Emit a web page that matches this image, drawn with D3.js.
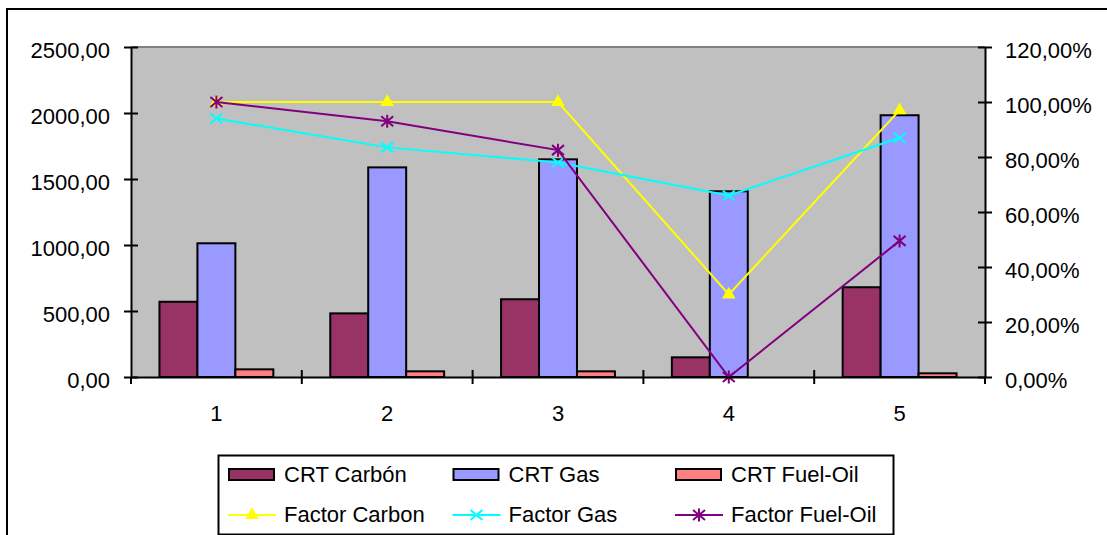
<!DOCTYPE html>
<html>
<head>
<meta charset="utf-8">
<script src="https://cdn.jsdelivr.net/npm/d3@7"></script>
<style>
  body { margin: 0; background: #fff; }
  svg { display: block; font-family: 'Liberation Sans', Arial, sans-serif; }
</style>
</head>
<body>
<div id="svg-container"></div>
<script>
const categories = ['1', '2', '3', '4', '5'];
const crtCarbon = [570, 482, 589, 149, 680];
const crtGas = [1013, 1588, 1649, 1407, 1983];
const crtFuelOil = [58, 43, 43, 0, 28];
const factorCarbon = [1.0, 1.0, 1.0, 0.3, 0.97];
const factorGas = [0.94, 0.835, 0.78, 0.66, 0.87];
const factorFuelOil = [1.0, 0.93, 0.825, 0.0, 0.495];
const leftTicks = [0, 500, 1000, 1500, 2000, 2500];
const rightTicks = [0, 0.2, 0.4, 0.6, 0.8, 1.0, 1.2];

const WIDTH = 1107;
const HEIGHT = 535;
const PLOT = { left: 131, right: 985, top: 47, bottom: 377 };
const FONT_SIZE = 22;

const barSeries = [
  { name: 'CRT Carbón', values: crtCarbon, color: '#993366' },
  { name: 'CRT Gas', values: crtGas, color: '#9999FF' },
  { name: 'CRT Fuel-Oil', values: crtFuelOil, color: '#FF8080' },
];
const lineSeries = [
  { name: 'Factor Carbon', values: factorCarbon, color: '#FFFF00', marker: 'triangle' },
  { name: 'Factor Gas', values: factorGas, color: '#00FFFF', marker: 'x' },
  { name: 'Factor Fuel-Oil', values: factorFuelOil, color: '#800080', marker: 'star' },
];

const commaFormat = (spec) => (value) => d3.format(spec)(value).replace('.', ',');

const markerPath = (type) => {
  if (type === 'triangle') return d3.symbol(d3.symbolTriangle, 80)();
  if (type === 'x') return 'M-6,-5L6,5M-6,5L6,-5';
  return 'M-6,-5L6,5M-6,5L6,-5M0,-6.5L0,6.5';
};

const drawMarker = (selection, type, color) => {
  selection
    .append('path')
    .attr('d', markerPath(type))
    .attr('fill', type === 'triangle' ? color : 'none')
    .attr('stroke', color)
    .attr('stroke-width', type === 'triangle' ? 0 : 2);
};

const drawChart = () => {
  const svg = d3.create('svg').attr('width', WIDTH).attr('height', HEIGHT);

  // outer chart frame (runs past the right and bottom edges)
  svg
    .append('rect')
    .attr('x', 7)
    .attr('y', 9)
    .attr('width', WIDTH + 20)
    .attr('height', HEIGHT + 20)
    .attr('fill', '#fff')
    .attr('stroke', '#000')
    .attr('stroke-width', 2);

  const x0 = d3.scaleBand().domain(categories).range([PLOT.left, PLOT.right]);
  const x1 = d3
    .scaleBand()
    .domain(barSeries.map((s) => s.name))
    .range([0, x0.bandwidth()])
    .paddingOuter(0.75);
  const yLeft = d3.scaleLinear().domain([0, 2500]).range([PLOT.bottom, PLOT.top]);
  const yRight = d3.scaleLinear().domain([0, 1.2]).range([PLOT.bottom, PLOT.top]);

  svg
    .append('rect')
    .attr('x', PLOT.left)
    .attr('y', PLOT.top)
    .attr('width', PLOT.right - PLOT.left)
    .attr('height', PLOT.bottom - PLOT.top)
    .attr('fill', '#C0C0C0');
  svg
    .append('line')
    .attr('x1', PLOT.left)
    .attr('x2', PLOT.right)
    .attr('y1', PLOT.top)
    .attr('y2', PLOT.top)
    .attr('stroke', '#808080')
    .attr('stroke-width', 2);

  // bars
  svg
    .append('g')
    .selectAll('g')
    .data(barSeries)
    .join('g')
    .attr('fill', (s) => s.color)
    .selectAll('rect')
    .data((s) => s.values.map((v, i) => ({ name: s.name, category: categories[i], value: v })))
    .join('rect')
    .filter((d) => d.value > 0)
    .attr('x', (d) => x0(d.category) + x1(d.name))
    .attr('y', (d) => yLeft(d.value))
    .attr('width', x1.bandwidth())
    .attr('height', (d) => yLeft(0) - yLeft(d.value))
    .attr('stroke', '#000')
    .attr('stroke-width', 2);

  // lines on secondary axis
  const center = (i) => x0(categories[i]) + x0.bandwidth() / 2;
  const line = d3
    .line()
    .x((d, i) => center(i))
    .y((d) => yRight(d));

  lineSeries.forEach((s) => {
    const g = svg.append('g');
    g.append('path')
      .attr('d', line(s.values))
      .attr('fill', 'none')
      .attr('stroke', s.color)
      .attr('stroke-width', 2);
    s.values.forEach((v, i) => {
      g.append('g')
        .attr('transform', `translate(${center(i)},${yRight(v)})`)
        .call(drawMarker, s.marker, s.color);
    });
  });

  // left axis
  const leftAxis = svg
    .append('g')
    .attr('transform', `translate(${PLOT.left},0)`)
    .call(
      d3
        .axisLeft(yLeft)
        .tickValues(leftTicks)
        .tickFormat(commaFormat('.2f'))
        .tickSize(7)
        .tickSizeOuter(0)
        .tickPadding(14)
    );
  leftAxis.selectAll('.tick line').attr('x2', -7).attr('x1', 7);

  // right axis
  const rightAxis = svg
    .append('g')
    .attr('transform', `translate(${PLOT.right},0)`)
    .call(
      d3
        .axisRight(yRight)
        .tickValues(rightTicks)
        .tickFormat(commaFormat('.2%'))
        .tickSize(7)
        .tickSizeOuter(0)
        .tickPadding(13)
    );
  rightAxis.selectAll('.tick line').attr('x1', -7);

  // category axis, ticks sit between the categories
  const bottomAxis = svg
    .append('g')
    .attr('transform', `translate(0,${PLOT.bottom})`)
    .call(d3.axisBottom(x0).tickSize(0).tickSizeOuter(0).tickPadding(28));
  const boundaries = categories.map((c) => x0(c)).concat(PLOT.right);
  bottomAxis
    .selectAll('.boundary')
    .data(boundaries)
    .join('line')
    .attr('class', 'boundary')
    .attr('x1', (d) => d)
    .attr('x2', (d) => d)
    .attr('y1', (d, i) => (i === 0 || i === boundaries.length - 1 ? 0 : -7))
    .attr('y2', 7)
    .attr('stroke', '#000')
    .attr('stroke-width', 2);

  [leftAxis, rightAxis, bottomAxis].forEach((axis) => {
    axis.selectAll('.domain').attr('stroke', '#000').attr('stroke-width', 2);
    axis.selectAll('.tick line').attr('stroke', '#000').attr('stroke-width', 2);
    axis
      .selectAll('.tick text')
      .attr('fill', '#000')
      .style('font-size', `${FONT_SIZE}px`)
      .style('font-family', "'Liberation Sans', Arial, sans-serif");
  });
  leftAxis.selectAll('.tick text').attr('dy', '0.46em');
  rightAxis.selectAll('.tick text').attr('dy', '0.46em');

  // legend
  const legend = svg.append('g');
  legend
    .append('rect')
    .attr('x', 218.5)
    .attr('y', 455.5)
    .attr('width', 675)
    .attr('height', 79)
    .attr('fill', '#fff')
    .attr('stroke', '#000')
    .attr('stroke-width', 2);

  const columns = [228, 452.5, 675];
  barSeries.forEach((s, i) => {
    const item = legend.append('g').attr('transform', `translate(${columns[i]},468)`);
    item
      .append('rect')
      .attr('x', 1)
      .attr('y', 1)
      .attr('width', 45)
      .attr('height', 11)
      .attr('fill', s.color)
      .attr('stroke', '#000')
      .attr('stroke-width', 2);
    item
      .append('text')
      .attr('x', 56)
      .attr('y', 14)
      .style('font-size', `${FONT_SIZE}px`)
      .text(s.name);
  });
  lineSeries.forEach((s, i) => {
    const item = legend.append('g').attr('transform', `translate(${columns[i]},515)`);
    item
      .append('line')
      .attr('x1', 0)
      .attr('x2', 48)
      .attr('stroke', s.color)
      .attr('stroke-width', 2);
    item.append('g').attr('transform', 'translate(24,0)').call(drawMarker, s.marker, s.color);
    item
      .append('text')
      .attr('x', 56)
      .attr('y', 7)
      .style('font-size', `${FONT_SIZE}px`)
      .text(s.name);
  });

  document.getElementById('svg-container').appendChild(svg.node());
};

drawChart();
</script>
</body>
</html>
